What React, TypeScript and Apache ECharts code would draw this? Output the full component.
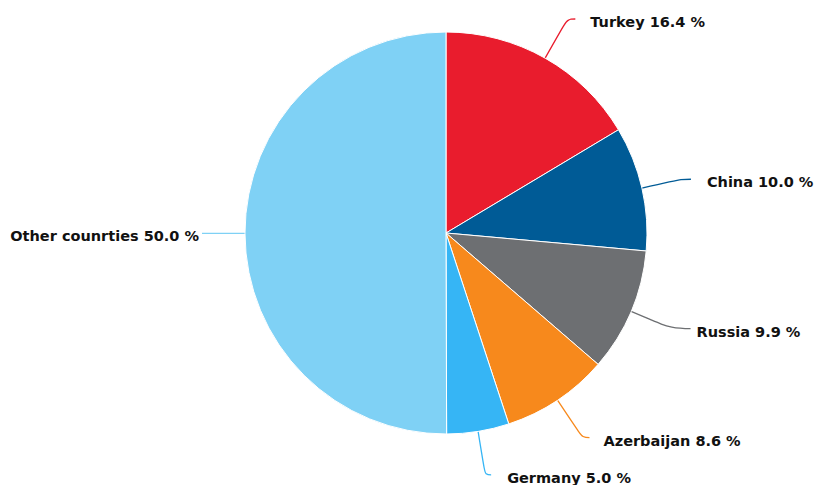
import React, { useEffect, useRef } from "react";
import * as echarts from "echarts";

const categories = ["Turkey", "China", "Russia", "Azerbaijan", "Germany", "Other counrties"];
const values = [16.4, 10.0, 9.9, 8.6, 5.0, 50.0];
const colors = ["#e91c2d", "#005b96", "#6d6f72", "#f7891c", "#36b5f5", "#7fd1f5"];
const lineLengths = [[45, 8], [40, 10], [44, 19], [45, 7], [44, 6], [20, 23]];
const labelGaps = [15, 16, 6, 14, 16, 3];

export default function App() {
  const ref = useRef<HTMLDivElement>(null);
  useEffect(() => {
    document.body.style.margin = "0";
    const chart = echarts.init(ref.current!, null, { renderer: "svg" });
    const textStyle = {
      fontFamily: "DejaVu Sans",
      fontWeight: "bold",
      fontSize: 14.5,
      color: "#111111",
      padding: [6, 0, 0, 0],
    };
    chart.setOption({
      animation: false,
      backgroundColor: "#ffffff",
      series: [
        {
          type: "pie",
          center: [446, 233],
          radius: 201,
          startAngle: 90,
          clockwise: true,
          avoidLabelOverlap: false,
          itemStyle: { borderColor: "#ffffff", borderWidth: 1 },
          label: {
            show: true,
            position: "outside",
            formatter: (p: any) => `{t|${p.name} ${p.value.toFixed(1)} %}`,
            rich: { t: textStyle },
          },
          labelLine: { show: true, smooth: 0.4, lineStyle: { width: 1.3 } },
          data: categories.map((c, i) => ({
            name: c,
            value: values[i],
            itemStyle: { color: colors[i] },
            label: { distanceToLabelLine: labelGaps[i] },
            labelLine: { length: lineLengths[i][0], length2: lineLengths[i][1] },
          })),
        },
      ],
    });
    return () => chart.dispose();
  }, []);
  return <div ref={ref} style={{ width: 816, height: 485 }} />;
}
